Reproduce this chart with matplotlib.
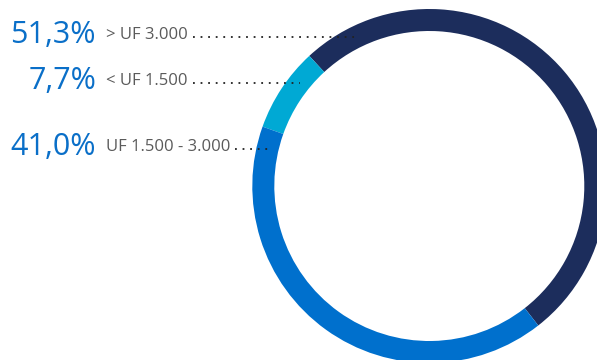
import numpy as np
import matplotlib.pyplot as plt

labels = ["> UF 3.000", "< UF 1.500", "UF 1.500 - 3.000"]
pcts = [51.3, 7.7, 41.0]
pct_txt = ["51,3%", "7,7%", "41,0%"]
colors = ["#1c2d5c", "#00a9d4", "#0070cd"]

W, H = 597, 360
cx, cy = 429.3, H - 186.0
R, ring = 177, 22
text_y = [35, 81, 147]      # pixel rows from the top
label_x = [106, 106, 106]

fig = plt.figure(figsize=(W / 100, H / 100), dpi=100)
ax = fig.add_axes([0, 0, 1, 1])

ax.pie(pcts, colors=colors, startangle=-52, counterclock=True,
       center=(cx, cy), radius=R, frame=True,
       wedgeprops=dict(width=ring, linewidth=0))
ax.set_xlim(0, W)
ax.set_ylim(0, H)
ax.set_aspect('equal')
ax.axis('off')

font = ['Open Sans', 'DejaVu Sans']
r_mid = R - ring / 2
for i in range(3):
    y = H - text_y[i]
    ax.text(96, y, pct_txt[i], ha='right', va='center', fontsize=22,
            color='#0a6fc8', family=font)
    t = ax.text(label_x[i], y, labels[i], ha='left', va='center', fontsize=12,
                color='#5a5a5a', family=font)
    fig.canvas.draw()
    bb = t.get_window_extent().transformed(ax.transData.inverted())
    ly = y - 1.5
    x_end = cx - np.sqrt(r_mid**2 - (ly - cy)**2)
    ax.plot([bb.x1 + 5, x_end], [ly, ly], color='#222222', lw=1.3,
            linestyle=(0, (1, 3.2)), zorder=5)

fig.savefig("out.png", dpi=100)
